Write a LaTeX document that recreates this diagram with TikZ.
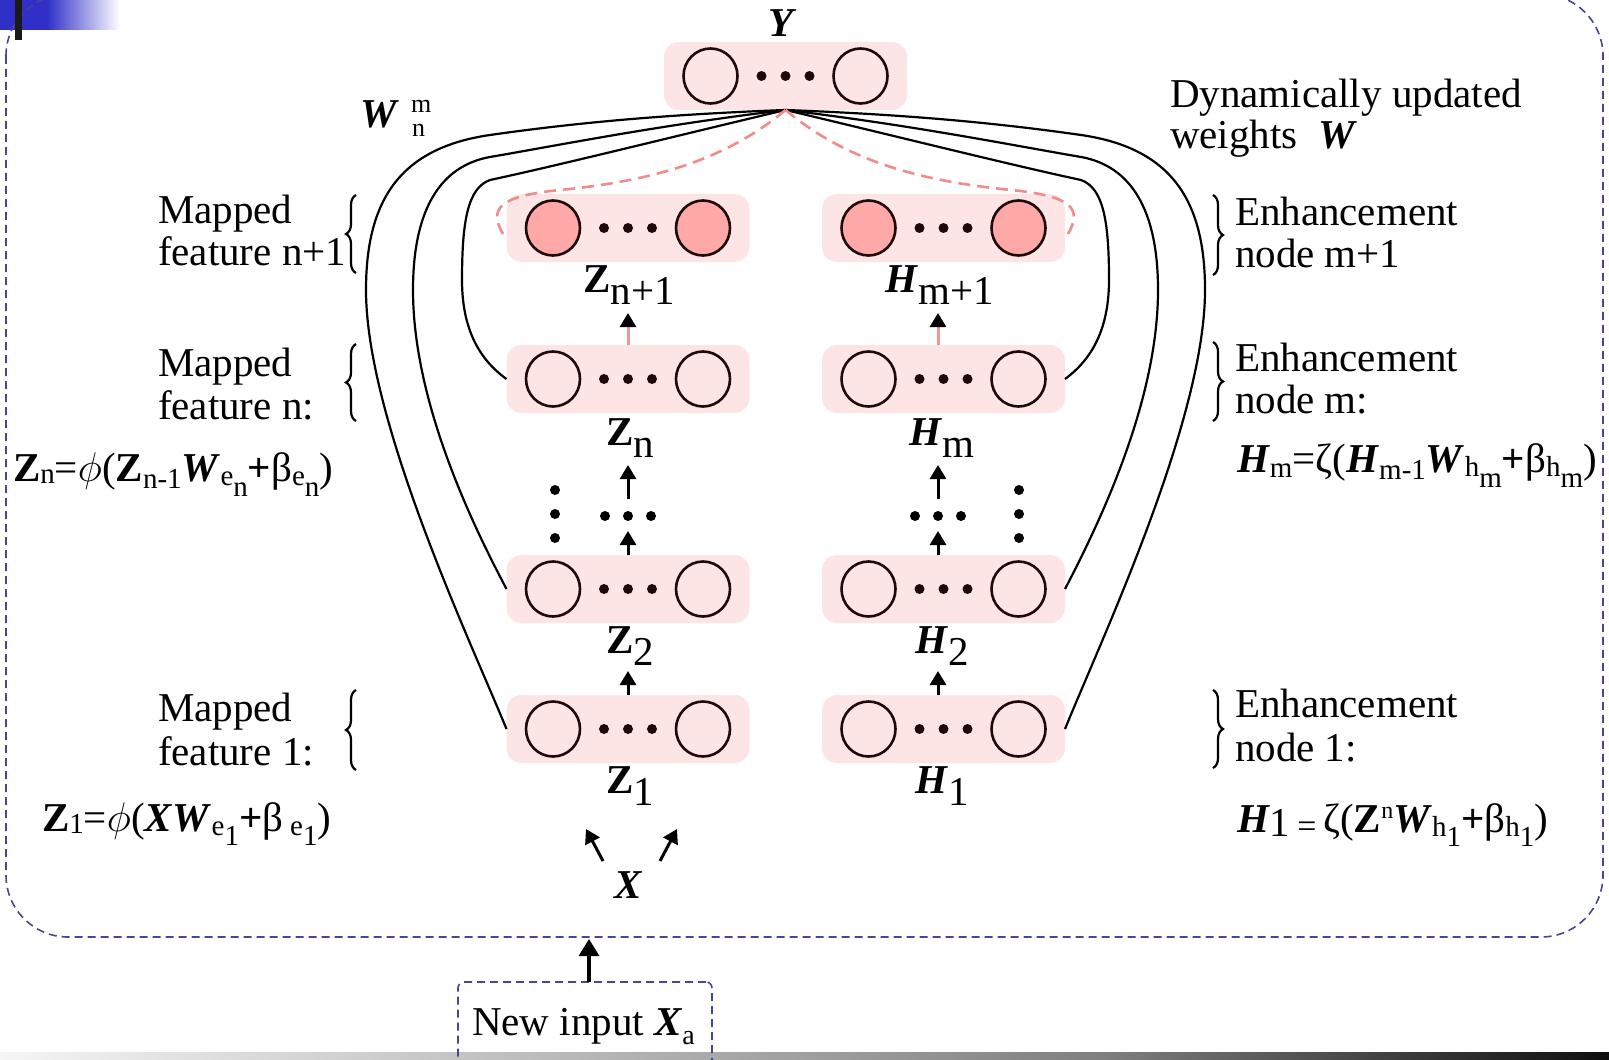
\documentclass[tikz,border=0pt]{standalone}
\usepackage{fontspec}
\setmainfont{Liberation Serif}
\usetikzlibrary{shapes.geometric,arrows.meta,decorations.pathreplacing}
\definecolor{blockpink}{RGB}{253,229,229}
\definecolor{hotpink}{RGB}{255,168,168}
\definecolor{neurline}{RGB}{30,10,10}
\definecolor{dashpink}{RGB}{240,140,140}
\definecolor{pinkline}{RGB}{240,150,150}
\definecolor{borderblue}{RGB}{70,70,150}
\definecolor{topblue}{RGB}{48,48,200}
\definecolor{stripA}{RGB}{245,245,245}
\definecolor{stripB}{RGB}{128,128,128}
\definecolor{stripC}{RGB}{14,14,14}
\newcommand\bfi[1]{\textbf{\textit{#1}}}
\newcommand\fsub[2]{\raisebox{#1}{\fontsize{14.5}{14.5}\selectfont #2}}
\newcommand\nnrow[4]{%
  \node[block] (#1) at (#2,#3) {};
  \path (#1.center) ++(-75,0) node[neuron,fill=#4] (#1l) {};
  \path (#1.center) ++(75,0) node[neuron,fill=#4] (#1r) {};
  \fill[neurline] (#1.center) ++(-24,0) circle[radius=5] ++(24,0) circle[radius=5] ++(24,0) circle[radius=5];
}
\begin{document}
\begin{tikzpicture}[x=0.5pt, y=-0.5pt,
  every node/.style={inner sep=0pt, outer sep=0pt, font=\fontsize{20.5}{20.5}\selectfont},
  block/.style={fill=blockpink, rounded corners=7.5pt, minimum width=121.5pt, minimum height=34pt},
  neuron/.style={ellipse, draw=neurline, line width=1.3pt, minimum width=27pt, minimum height=27.5pt},
  wire/.style={line width=1.1pt, black},
  pdash/.style={line width=1.3pt, dashpink, dash pattern=on 6pt off 3.5pt},
  arr/.style={line width=1.5pt, -{Triangle[width=8pt,length=7pt]}},
  parr/.style={line width=1.5pt, pinkline, -{Triangle[width=8pt,length=7pt,color=black]}},
  bigarr/.style={line width=1.7pt, -{Triangle[width=10pt,length=8.5pt]}},
  brace/.style={decorate, decoration={brace, amplitude=5pt}, line width=1.1pt},
  bdash/.style={draw=borderblue, line width=0.8pt, dash pattern=on 4pt off 2.5pt},
  lab/.style={anchor=base},
  txt/.style={anchor=base west},
  form/.style={anchor=base west, font=\fontsize{20.5}{20.5}\selectfont}]
\useasboundingbox (0,0) rectangle (1609,1059);

% top-left decoration
\fill[topblue] (0,0) rectangle (47,30);
\shade[left color=topblue, right color=white] (47,0) rectangle (120,30);

% bottom strip
\shade[left color=stripA, right color=stripB] (0,1052) rectangle (1100,1060);
\shade[left color=stripB, right color=stripC] (1100,1052) rectangle (1610,1060);

% outer dashed frame
\draw[bdash, rounded corners=31pt] (6,-6) rectangle (1603,937);
\fill[black!90] (15,0) rectangle (22,40);
\coordinate (bordbot) at (589,939);

% new input box
\node[bdash, draw, rounded corners=3pt, minimum width=127pt, minimum height=60pt, anchor=north] (newbox) at (585,982) {};
\node[txt] (newin) at (472,1035) {New input \bfi{X}\raisebox{-4.5pt}{\fontsize{14}{14}\selectfont a}};
\draw[bigarr] (newbox.north -| bordbot) -- (bordbot);

% blocks
\nnrow{yb}{785.5}{76}{blockpink}
\nnrow{zq}{628}{228}{hotpink}
\nnrow{hq}{943.5}{228}{hotpink}
\nnrow{zn}{628}{379}{blockpink}
\nnrow{hm}{943.5}{379}{blockpink}
\nnrow{ztwo}{628}{589}{blockpink}
\nnrow{htwo}{943.5}{589}{blockpink}
\nnrow{zone}{628}{729}{blockpink}
\nnrow{hone}{943.5}{729}{blockpink}

% weight curves
\draw[wire] (yb.south) .. controls (650,115) and (560,125) .. (490,135) .. controls (400,148) and (366,200) .. (366,290) .. controls (366,420) and (470,640) .. (zone.west);
\draw[wire] (yb.south) .. controls (660,125) and (560,145) .. (490,157) .. controls (440,166) and (413,210) .. (413,290) .. controls (413,400) and (470,520) .. (ztwo.west);
\draw[wire] (yb.south) .. controls (680,135) and (560,165) .. (490,180) .. controls (468,188) and (462,220) .. (462,280) .. controls (462,330) and (480,360) .. (zn.west);
\draw[wire] (yb.south) .. controls (921,115) and (1011,125) .. (1081,135) .. controls (1171,148) and (1205,200) .. (1205,290) .. controls (1205,420) and (1101,640) .. (hone.east);
\draw[wire] (yb.south) .. controls (911,125) and (1011,145) .. (1081,157) .. controls (1131,166) and (1158,210) .. (1158,290) .. controls (1158,400) and (1101,520) .. (htwo.east);
\draw[wire] (yb.south) .. controls (891,135) and (1011,165) .. (1081,180) .. controls (1103,188) and (1109,220) .. (1109,280) .. controls (1109,330) and (1091,360) .. (hm.east);

% pink dashed
\coordinate (dl) at (503,234);
\coordinate (dr) at (1068,234);
\draw[pdash] (yb.south) .. controls (720,165) and (640,182) .. (560,190) .. controls (500,196) and (488,208) .. (dl);
\draw[pdash] (yb.south) .. controls (851,165) and (931,182) .. (1011,190) .. controls (1071,196) and (1083,208) .. (dr);

% vertical arrows
\draw[arr] (zone.north) -- ++(0,-24);
\draw[arr] (ztwo.north) -- ++(0,-24);
\coordinate (zdots) at (628,499);
\draw[arr] (zdots) -- ++(0,-34);
\draw[parr] (zn.north) -- ++(0,-32);
\draw[arr] ([xshift=-2.75pt]hone.north) -- ++(0,-24);
\draw[arr] ([xshift=-2.75pt]htwo.north) -- ++(0,-24);
\coordinate (hdots) at (938,499);
\draw[arr] (hdots) -- ++(0,-34);
\draw[parr] ([xshift=-2.75pt]hm.north) -- ++(0,-32);

% X arrows
\coordinate (xa) at (603,861);
\coordinate (xb) at (660,861);
\draw[arr] (xa) -- ++(-17,-32);
\draw[arr] (xb) -- ++(17,-32);

% dots
\fill (605,516) circle[radius=5] (628,516) circle[radius=5] (651,516) circle[radius=5];
\fill (915,516) circle[radius=5] (938,516) circle[radius=5] (961,516) circle[radius=5];
\fill (555,490) circle[radius=5] (555,514) circle[radius=5] (555,538) circle[radius=5];
\fill (1019,490) circle[radius=5] (1019,514) circle[radius=5] (1019,538) circle[radius=5];

% block labels
\node[lab] (ylab) at (783,37) {\bfi{Y}};
\node[lab] (lzq) at (629,292) {\textbf{Z}\raisebox{-6pt}{n+1}};
\node[lab] (lhq) at (940,292) {\bfi{H}\raisebox{-6pt}{m+1}};
\node[lab] (lzn) at (630,445) {\textbf{Z}\raisebox{-6pt}{n}};
\node[lab] (lhm) at (942,445) {\bfi{H}\raisebox{-6pt}{m}};
\node[lab] (lztwo) at (630,653) {\textbf{Z}\raisebox{-6pt}{2}};
\node[lab] (lhtwo) at (942,653) {\bfi{H}\raisebox{-6pt}{2}};
\node[lab] (lzone) at (630,793) {\textbf{Z}\raisebox{-6pt}{1}};
\node[lab] (lhone) at (942,793) {\bfi{H}\raisebox{-6pt}{1}};
\node[lab] (xlab) at (629,898) {\bfi{X}};

% weight label
\node[txt] (wnm) at (360,128) {\bfi{W}};
\node[txt, font=\fontsize{13}{13}\selectfont] (wm) at (411,113) {m};
\node[txt, font=\fontsize{13}{13}\selectfont] (wn) at (412,137) {n};
\node[txt] (dyn1) at (1170,108) {Dynamically updated};
\node[txt] (dyn2) at (1170,149) {weights\ \ \bfi{W}};

% left texts
\node[txt] (mqa) at (158,223) {Mapped};
\node[txt] (mqb) at (158,265) {feature n+1};
\node[txt] (mna) at (158,376) {Mapped};
\node[txt] (mnb) at (158,419) {feature n:};
\node[txt] (moa) at (158,721) {Mapped};
\node[txt] (mob) at (158,765) {feature 1:};
\draw[brace] (356,273) -- (356,195);
\draw[brace] (356,421) -- (356,344);
\draw[brace] (356,770) -- (356,690);

% right texts
\node[txt] (eqa) at (1235,226) {Enhancement};
\node[txt] (eqb) at (1235,267) {node m+1};
\node[txt] (ema) at (1235,371) {Enhancement};
\node[txt] (emb) at (1235,413) {node m:};
\node[txt] (eoa) at (1235,717) {Enhancement};
\node[txt] (eob) at (1235,761) {node 1:};
\draw[brace] (1213,195) -- (1213,275);
\draw[brace] (1213,342) -- (1213,421);
\draw[brace] (1213,690) -- (1213,768);

% formulas
\node[form] (fzn) at (13,481) {\textbf{Z}\fsub{-1pt}{n}=$\phi$(\textbf{Z}\fsub{-3.5pt}{n-1}\bfi{W}\fsub{-2pt}{e\raisebox{-5.5pt}{n}}\textbf{+}β\fsub{-2pt}{e\raisebox{-5.5pt}{n}})};
\node[form] (fzo) at (42,831) {\textbf{Z}\fsub{-1pt}{1}=$\phi$(\bfi{X}\bfi{W}\fsub{-2pt}{e\raisebox{-5pt}{1}}\textbf{+}β\,\fsub{-2pt}{e\raisebox{-5pt}{1}})};
\node[form] (fhm) at (1237,472) {\bfi{H}\fsub{-2.5pt}{m}=ζ(\bfi{H}\fsub{-3.5pt}{m-1}\bfi{W}\fsub{-2pt}{h\raisebox{-5.5pt}{m}}\textbf{+}β\fsub{-2pt}{h\raisebox{-5.5pt}{m}})};
\node[form] (fho) at (1237,832) {\bfi{H}\raisebox{-2pt}{1}\,\raisebox{-2.5pt}{\fontsize{17}{17}\selectfont =}\,ζ(\textbf{Z}\raisebox{7pt}{\fontsize{12}{12}\selectfont n}\bfi{W}\fsub{-2pt}{h\raisebox{-5pt}{1}}\textbf{+}β\fsub{-2pt}{h\raisebox{-5pt}{1}})};
\end{tikzpicture}
\end{document}
